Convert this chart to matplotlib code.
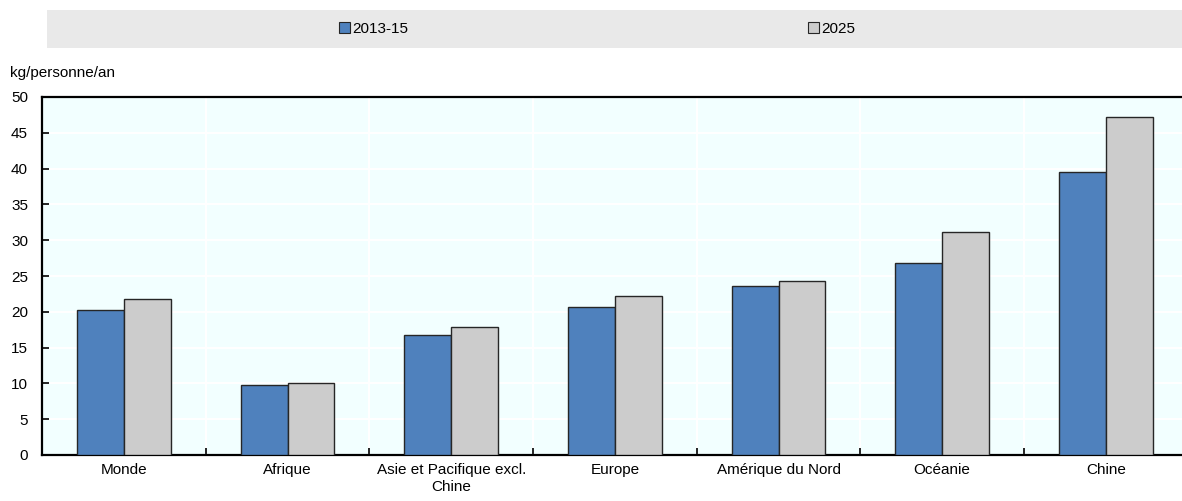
import matplotlib
matplotlib.use("Agg")
import matplotlib.pyplot as plt
from matplotlib.patches import Rectangle, Patch
import numpy as np

regions = ["Monde", "Afrique", "Asie et Pacifique excl.\nChine", "Europe",
           "Amérique du Nord", "Océanie", "Chine"]
v_2013_15 = [20.2, 9.8, 16.7, 20.7, 23.6, 26.8, 39.5]
v_2025 = [21.8, 10.1, 17.9, 22.2, 24.3, 31.1, 47.2]
series = ["2013-15", "2025"]
yticks = [0, 5, 10, 15, 20, 25, 30, 35, 40, 45, 50]

plt.rcParams["font.family"] = ["Liberation Sans", "DejaVu Sans"]
plt.rcParams["font.size"] = 11

blue = "#4F81BD"
grey = "#CCCCCC"
edge = "#262626"

fig = plt.figure(figsize = (11.82, 5.01), dpi = 100)
W, H = 1182, 501
ax = fig.add_axes([42 / W, (H - 455) / H, (W - 42) / W, (455 - 97) / H])
ax.set_facecolor("#F2FFFF")

x = np.arange(len(regions))
bw = 0.287
ax.bar(x - bw / 2, v_2013_15, width = bw, color = blue, edgecolor = edge,
       linewidth = 1, zorder = 3)
ax.bar(x + bw / 2, v_2025, width = bw, color = grey, edgecolor = edge,
       linewidth = 1, zorder = 3)

step = (1024 - 42) / 6
ax.set_xlim(-0.5, -0.5 + (W - 42) / step)
ax.set_ylim(0, 50)
ax.set_yticks(yticks)
ax.set_xticks(x)
ax.set_xticklabels(regions, linespacing = 1.25)
ax.set_xticks(x[:-1] + 0.5, minor = True)

ax.grid(axis = "y", color = "white", linewidth = 1.5, zorder = 0)
ax.grid(axis = "x", which = "minor", color = "white", linewidth = 1.5, zorder = 0)
ax.tick_params(axis = "x", which = "major", length = 0, pad = 6)
ax.tick_params(axis = "x", which = "minor", direction = "in", length = 5, width = 1.2)
ax.tick_params(axis = "y", direction = "in", length = 5, width = 1.2, pad = 10)

for side in ["left", "bottom", "top"]:
    ax.spines[side].set_linewidth(1.6)
    ax.spines[side].set_color("black")
ax.spines["right"].set_visible(False)

fig.text(10 / W, 1 - 73 / H, "kg/personne/an", ha = "left", va = "center")

# bandeau de légende
fig.patches.append(Rectangle((47 / W, 1 - 48 / H), (W - 47) / W, 38 / H,
                             transform = fig.transFigure, facecolor = "#E9E9E9",
                             edgecolor = "none", zorder = 0))
handles = [Patch(facecolor = blue, edgecolor = edge, linewidth = 0.8),
           Patch(facecolor = grey, edgecolor = edge, linewidth = 0.8)]
fig.legend(handles, series, loc = "center left", bbox_to_anchor = (339 / W, 1 - 29 / H),
           ncol = 2, frameon = False, handlelength = 0.7, handleheight = 0.7,
           handletextpad = 0.15, columnspacing = 26.2, borderpad = 0,
           borderaxespad = 0)

fig.savefig("out.png", dpi = 100)
